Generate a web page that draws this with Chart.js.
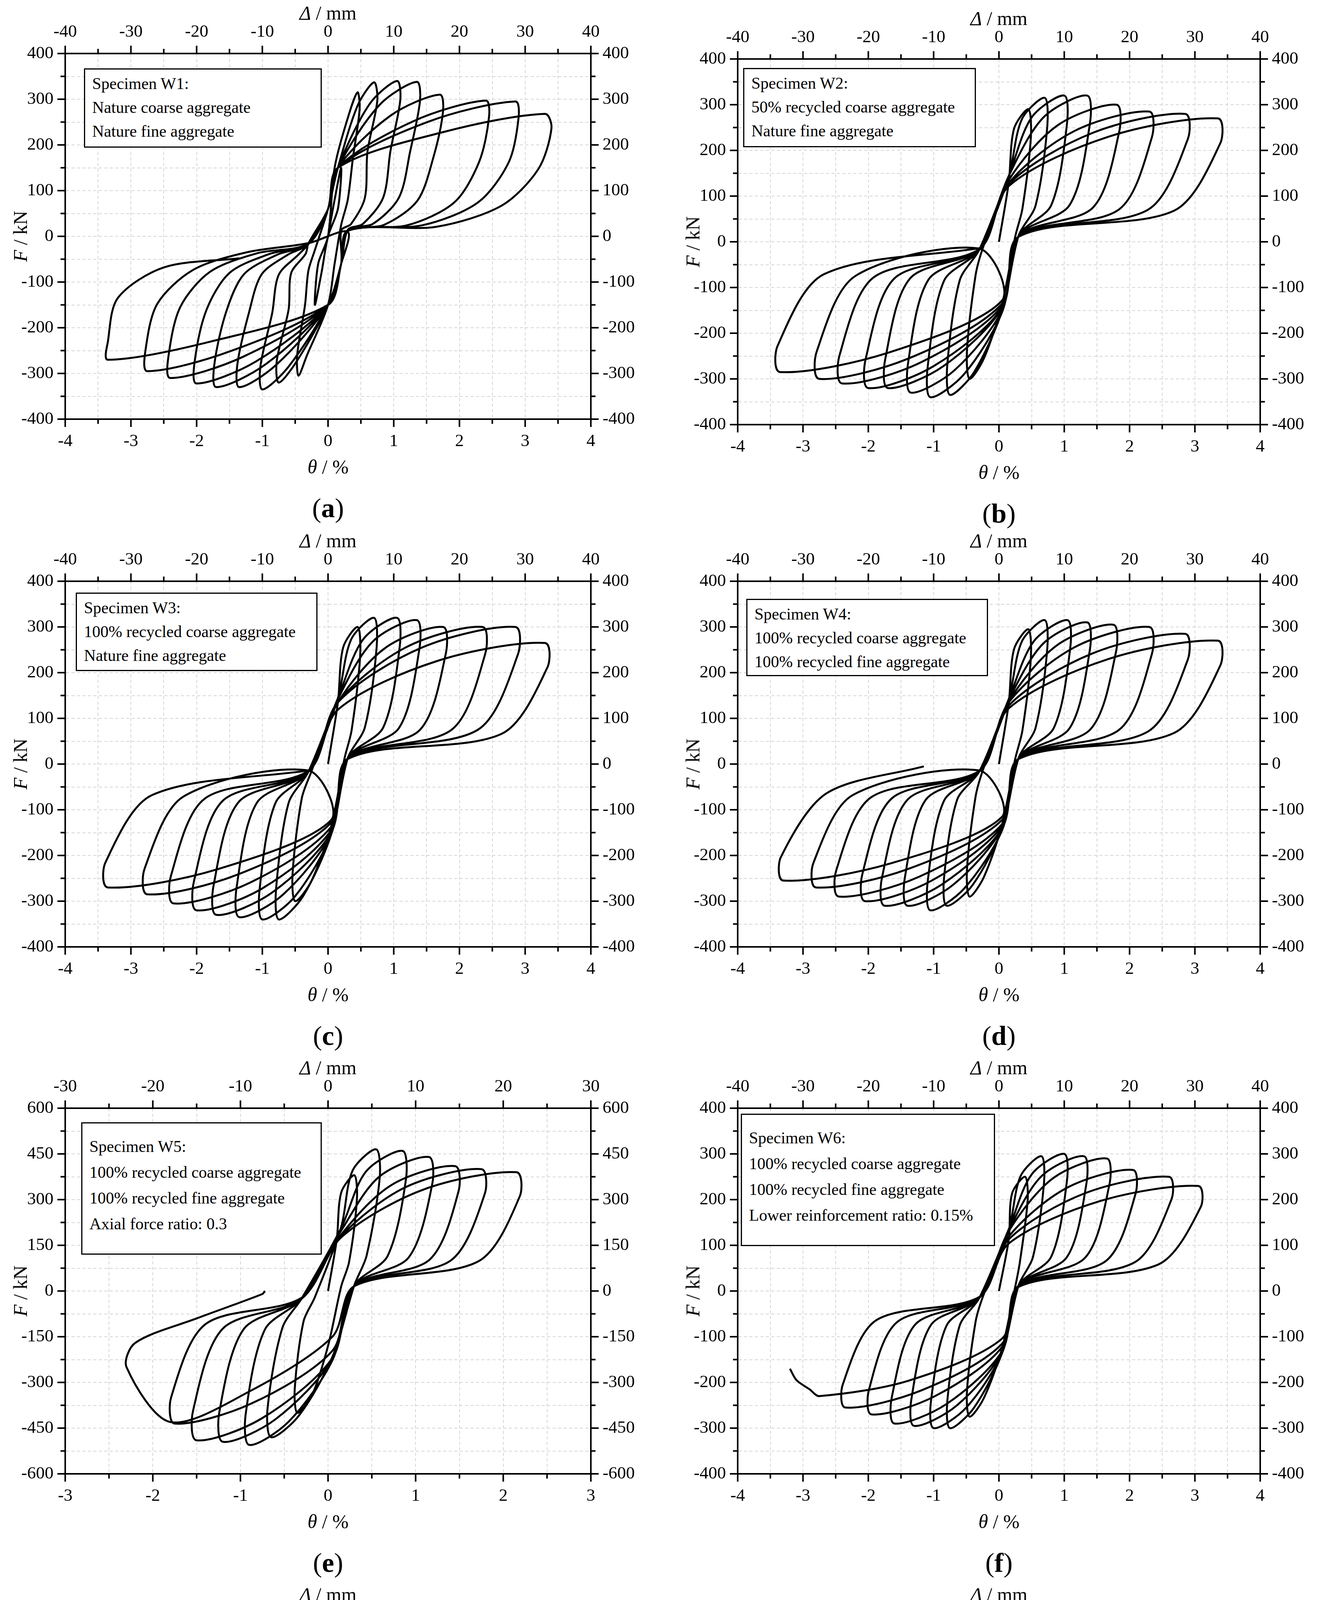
<!DOCTYPE html>
<html><head><meta charset="utf-8">
<script src="https://cdn.jsdelivr.net/npm/chart.js@4"></script>
<style>
body{margin:0;background:#fff;width:3375px;height:5408px;position:relative;overflow:hidden;font-family:"Liberation Serif",serif;}
canvas{position:absolute;}
.t{position:absolute;font-size:50px;color:#000;white-space:nowrap;transform:translate(-50%,-50%);}
.cap{position:absolute;font-size:70px;white-space:nowrap;transform:translate(-50%,-50%);}
.box{position:absolute;border:3px solid #000;background:#fff;font-size:42px;line-height:61px;padding:6px 0 0 18px;box-sizing:border-box;white-space:nowrap;z-index:5;}
</style></head><body>
<script>
const w1=[[0,0],[0.1,80],[0.2,150],[0.15,60],[0,0],[-0.1,-80],[-0.2,-150],[-0.15,-60],[0,0],
[0.1,150],[0.32,268],[0.45,315],[0.48,277],[0.38,173],[0.3,80],[0.2,25],
[0.1,-60],[0,-150],[-0.32,-260],[-0.45,-305],[-0.47,-260],[-0.35,-150],[-0.3,-76],[-0.2,-30],
[0,60],[0.15,150],[0.45,286],[0.7,337],[0.75,297],[0.6,185],[0.56,84],[0.35,27],[0.2,13],
[0.2,-60],[0,-150],[-0.47,-272],[-0.75,-320],[-0.78,-272],[-0.6,-160],[-0.56,-80],[-0.34,-38],[-0.3,-16],
[0,60],[0.15,150],[0.63,289],[1.05,340],[1.1,299],[0.95,187],[0.84,85],[0.53,27],[0.3,14],
[0.2,-60],[0,-150],[-0.6,-285],[-1.0,-335],[-1.03,-285],[-0.85,-168],[-0.75,-84],[-0.45,-40],[-0.3,-17],
[0,60],[0.15,150],[0.78,287],[1.35,338],[1.4,297],[1.25,186],[1.08,85],[0.68,27],[0.3,14],
[0.2,-60],[0,-150],[-0.78,-280],[-1.35,-330],[-1.38,-280],[-1.2,-165],[-1.01,-83],[-0.61,-40],[-0.3,-17],
[0,60],[0.15,150],[0.95,264],[1.7,310],[1.75,273],[1.6,171],[1.36,78],[0.85,25],[0.3,12],
[0.2,-60],[0,-150],[-0.95,-280],[-1.7,-330],[-1.73,-280],[-1.55,-165],[-1.28,-83],[-0.77,-40],[-0.3,-17],
[0,60],[0.15,150],[1.3,252],[2.4,297],[2.45,261],[2.3,163],[1.92,74],[1.2,24],[0.3,12],
[0.2,-60],[0,-150],[-1.1,-274],[-2.0,-322],[-2.03,-274],[-1.85,-161],[-1.5,-80],[-0.9,-39],[-0.3,-16],
[0,60],[0.15,150],[1.53,251],[2.85,295],[2.9,260],[2.75,162],[2.28,74],[1.43,24],[0.3,12],
[0.2,-60],[0,-150],[-1.3,-264],[-2.4,-310],[-2.43,-264],[-2.25,-155],[-1.8,-78],[-1.08,-37],[-0.3,-16],
[0,60],[0.15,150],[1.75,228],[3.3,268],[3.4,236],[3.2,147],[2.64,67],[1.65,21],[0.3,12],
[0.2,-60],[0,-150],[-1.48,-251],[-2.75,-295],[-2.78,-251],[-2.6,-148],[-2.06,-74],[-1.24,-35],[-0.3,-15],
[0.3,10],[0.2,-60],[0,-150],[-1.78,-230],[-3.35,-270],[-3.35,-230],[-3.2,-135],[-2.5,-68],[-1.35,-48]];
const w2=[[0,0],
[0.15,130],[0.23,247],[0.45,290],[0.49,232],[0.36,73],[0.25,12],[0.05,-135],[-0.23,-255],[-0.45,-300],[-0.49,-240],[-0.36,-75],[-0.25,-15],
[0.15,142],[0.35,268],[0.7,315],[0.74,252],[0.56,79],[0.3,13],[0.05,-150],[-0.38,-285],[-0.75,-335],[-0.79,-268],[-0.6,-84],[-0.3,-17],
[0.15,144],[0.5,272],[1.0,320],[1.04,256],[0.8,80],[0.3,13],[0.05,-153],[-0.53,-289],[-1.05,-340],[-1.09,-272],[-0.84,-85],[-0.3,-17],
[0.15,144],[0.68,272],[1.35,320],[1.39,256],[1.08,80],[0.3,13],[0.05,-149],[-0.68,-281],[-1.35,-330],[-1.39,-264],[-1.08,-83],[-0.3,-17],
[0.15,135],[0.9,255],[1.8,300],[1.84,240],[1.44,75],[0.3,12],[0.05,-144],[-0.85,-272],[-1.7,-320],[-1.74,-256],[-1.36,-80],[-0.3,-16],
[0.15,128],[1.15,242],[2.3,285],[2.34,228],[1.84,71],[0.3,11],[0.05,-144],[-1.0,-272],[-2.0,-320],[-2.04,-256],[-1.6,-80],[-0.3,-16],
[0.15,126],[1.43,238],[2.85,280],[2.89,224],[2.28,70],[0.3,11],[0.05,-140],[-1.2,-264],[-2.4,-310],[-2.44,-248],[-1.92,-78],[-0.3,-16],
[0.15,122],[1.68,230],[3.35,270],[3.39,216],[2.68,68],[0.3,11],[0.05,-135],[-1.38,-255],[-2.75,-300],[-2.79,-240],[-2.2,-75],[-0.3,-15],
[0.05,-128],[-1.68,-242],[-3.35,-285],[-3.39,-228],[-2.68,-71],[-0.3,-14]];
const w3=[[0,0],
[0.15,135],[0.23,255],[0.45,300],[0.49,240],[0.36,75],[0.25,12],[0.05,-135],[-0.25,-255],[-0.5,-300],[-0.54,-240],[-0.4,-75],[-0.25,-15],
[0.15,144],[0.35,272],[0.7,320],[0.74,256],[0.56,80],[0.3,13],[0.05,-153],[-0.38,-289],[-0.75,-340],[-0.79,-272],[-0.6,-85],[-0.3,-17],
[0.15,144],[0.53,272],[1.05,320],[1.09,256],[0.84,80],[0.3,13],[0.05,-153],[-0.5,-289],[-1.0,-340],[-1.04,-272],[-0.8,-85],[-0.3,-17],
[0.15,142],[0.68,268],[1.35,315],[1.39,252],[1.08,79],[0.3,13],[0.05,-151],[-0.68,-285],[-1.35,-335],[-1.39,-268],[-1.08,-84],[-0.3,-17],
[0.15,135],[0.88,255],[1.75,300],[1.79,240],[1.4,75],[0.3,12],[0.05,-149],[-0.85,-281],[-1.7,-330],[-1.74,-264],[-1.36,-83],[-0.3,-17],
[0.15,135],[1.18,255],[2.35,300],[2.39,240],[1.88,75],[0.3,12],[0.05,-144],[-1.0,-272],[-2.0,-320],[-2.04,-256],[-1.6,-80],[-0.3,-16],
[0.15,135],[1.43,255],[2.85,300],[2.89,240],[2.28,75],[0.3,12],[0.05,-137],[-1.18,-259],[-2.35,-305],[-2.39,-244],[-1.88,-76],[-0.3,-15],
[0.15,119],[1.65,225],[3.3,265],[3.34,212],[2.64,66],[0.3,11],[0.05,-128],[-1.38,-242],[-2.75,-285],[-2.79,-228],[-2.2,-71],[-0.3,-14],
[0.05,-122],[-1.68,-230],[-3.35,-270],[-3.39,-216],[-2.68,-68],[-0.3,-14]];
const w4=[[0,0],
[0.15,133],[0.23,251],[0.45,295],[0.49,236],[0.36,74],[0.25,12],[0.05,-131],[-0.23,-247],[-0.45,-290],[-0.49,-232],[-0.36,-73],[-0.25,-15],
[0.15,142],[0.35,268],[0.7,315],[0.74,252],[0.56,79],[0.3,13],[0.05,-140],[-0.4,-264],[-0.8,-310],[-0.84,-248],[-0.64,-78],[-0.3,-16],
[0.15,142],[0.53,268],[1.05,315],[1.09,252],[0.84,79],[0.3,13],[0.05,-144],[-0.53,-272],[-1.05,-320],[-1.09,-256],[-0.84,-80],[-0.3,-16],
[0.15,140],[0.68,264],[1.35,310],[1.39,248],[1.08,78],[0.3,12],[0.05,-140],[-0.7,-264],[-1.4,-310],[-1.44,-248],[-1.12,-78],[-0.3,-16],
[0.15,137],[0.88,259],[1.75,305],[1.79,244],[1.4,76],[0.3,12],[0.05,-140],[-0.88,-264],[-1.75,-310],[-1.79,-248],[-1.4,-78],[-0.3,-16],
[0.15,135],[1.15,255],[2.3,300],[2.34,240],[1.84,75],[0.3,12],[0.05,-135],[-1.03,-255],[-2.05,-300],[-2.09,-240],[-1.64,-75],[-0.3,-15],
[0.15,128],[1.43,242],[2.85,285],[2.89,228],[2.28,71],[0.3,11],[0.05,-131],[-1.23,-247],[-2.45,-290],[-2.49,-232],[-1.96,-73],[-0.3,-15],
[0.15,122],[1.68,230],[3.35,270],[3.39,216],[2.68,68],[0.3,11],[0.05,-122],[-1.4,-230],[-2.8,-270],[-2.84,-216],[-2.24,-68],[-0.3,-14],
[0.05,-115],[-1.65,-217],[-3.3,-255],[-3.34,-204],[-2.64,-64],[-1.15,-5]];
const w5=[[0,0],
[0.1,170],[0.15,323],[0.3,380],[0.33,304],[0.24,95],[0.15,15],[0,-180],[-0.18,-340],[-0.35,-400],[-0.38,-320],[-0.28,-100],[-0.15,-20],
[0.15,210],[0.28,395],[0.55,465],[0.59,372],[0.44,116],[0.3,19],[0.05,-216],[-0.33,-408],[-0.65,-480],[-0.69,-384],[-0.52,-120],[-0.3,-24],
[0.15,207],[0.43,391],[0.85,460],[0.89,368],[0.68,115],[0.3,18],[0.05,-227],[-0.45,-429],[-0.9,-505],[-0.94,-404],[-0.72,-126],[-0.3,-25],
[0.15,198],[0.58,374],[1.15,440],[1.19,352],[0.92,110],[0.3,18],[0.05,-223],[-0.6,-421],[-1.2,-495],[-1.24,-396],[-0.96,-124],[-0.3,-25],
[0.15,185],[0.73,349],[1.45,410],[1.49,328],[1.16,103],[0.3,16],[0.05,-220],[-0.75,-417],[-1.5,-490],[-1.54,-392],[-1.2,-123],[-0.3,-25],
[0.15,180],[0.88,340],[1.75,400],[1.79,320],[1.4,100],[0.3,16],[0.05,-196],[-0.88,-370],[-1.75,-435],[-1.79,-348],[-1.4,-109],[-0.3,-22],
[0.15,176],[1.08,332],[2.15,390],[2.19,312],[1.72,98],[0.3,16],
[0.05,-150],[-0.9,-330],[-1.8,-430],[-2.3,-250],[-2.2,-170],[-1.5,-90],[-0.75,-10],[-0.72,0]];
const w6=[[0,0],
[0.15,113],[0.2,213],[0.4,250],[0.44,200],[0.32,63],[0.25,10],[0.05,-124],[-0.23,-234],[-0.45,-275],[-0.49,-220],[-0.36,-69],[-0.25,-14],
[0.15,133],[0.33,251],[0.65,295],[0.69,236],[0.52,74],[0.3,12],[0.05,-135],[-0.38,-255],[-0.75,-300],[-0.79,-240],[-0.6,-75],[-0.3,-15],
[0.15,135],[0.5,255],[1.0,300],[1.04,240],[0.8,75],[0.3,12],[0.05,-135],[-0.5,-255],[-1.0,-300],[-1.04,-240],[-0.8,-75],[-0.3,-15],
[0.15,133],[0.65,251],[1.3,295],[1.34,236],[1.04,74],[0.3,12],[0.05,-133],[-0.65,-251],[-1.3,-295],[-1.34,-236],[-1.04,-74],[-0.3,-15],
[0.15,131],[0.83,247],[1.65,290],[1.69,232],[1.32,73],[0.3,12],[0.05,-131],[-0.8,-247],[-1.6,-290],[-1.64,-232],[-1.28,-73],[-0.3,-15],
[0.15,119],[1.03,225],[2.05,265],[2.09,212],[1.64,66],[0.3,11],[0.05,-122],[-0.98,-230],[-1.95,-270],[-1.99,-216],[-1.56,-68],[-0.3,-14],
[0.15,113],[1.3,213],[2.6,250],[2.64,200],[2.08,63],[0.3,10],[0.05,-115],[-1.18,-217],[-2.35,-255],[-2.39,-204],[-1.88,-64],[-0.3,-13],
[0.15,104],[1.53,196],[3.05,230],[3.09,184],[2.44,58],[0.3,9],[0.05,-104],[-1.38,-196],[-2.75,-230],[-2.9,-215],[-3.1,-195],[-3.2,-170]];
const w7=[[0,0],
[0.15,140],[0.23,264],[0.45,310],[0.49,248],[0.36,78],[0.25,12],[0.05,-144],[-0.25,-272],[-0.5,-320],[-0.54,-256],[-0.4,-80],[-0.25,-16],
[0.15,155],[0.35,293],[0.7,345],[0.74,276],[0.56,86],[0.3,14],[0.05,-153],[-0.4,-289],[-0.8,-340],[-0.84,-272],[-0.64,-85],[-0.3,-17],
[0.15,160],[0.5,302],[1.0,355],[1.04,284],[0.8,89],[0.3,14],[0.05,-155],[-0.55,-293],[-1.1,-345],[-1.14,-276],[-0.88,-86],[-0.3,-17],
[0.15,153],[0.65,289],[1.3,340],[1.34,272],[1.04,85],[0.3,14],[0.05,-151],[-0.7,-285],[-1.4,-335],[-1.44,-268],[-1.12,-84],[-0.3,-17],
[0.15,144],[0.83,272],[1.65,320],[1.69,256],[1.32,80],[0.3,13],[0.05,-149],[-0.88,-281],[-1.75,-330],[-1.79,-264],[-1.4,-83],[-0.3,-17],
[0.15,135],[1.15,255],[2.3,300],[2.34,240],[1.84,75],[0.3,12],[0.05,-144],[-1.03,-272],[-2.05,-320],[-2.09,-256],[-1.64,-80],[-0.3,-16],
[0.15,135],[1.65,255],[3.3,300],[3.34,240],[2.64,75],[0.3,12],[0.05,-140],[-1.23,-264],[-2.45,-310],[-2.49,-248],[-1.96,-78],[-0.3,-16],
[0.15,126],[1.7,238],[3.4,280],[3.44,224],[2.72,70],[0.3,11],[0.05,-135],[-1.53,-255],[-3.05,-300],[-3.09,-240],[-2.44,-75],[-0.3,-15],
[0.5,10],[1.5,15],[2.05,0],[2.1,5],[2.5,45],[2.8,100]];
const w8=[[0,0],
[0.15,144],[0.23,272],[0.45,320],[0.49,256],[0.36,80],[0.25,13],[0.05,-144],[-0.25,-272],[-0.5,-320],[-0.54,-256],[-0.4,-80],[-0.25,-16],
[0.15,173],[0.35,327],[0.7,385],[0.74,308],[0.56,96],[0.3,15],[0.05,-155],[-0.4,-293],[-0.8,-345],[-0.84,-276],[-0.64,-86],[-0.3,-17],
[0.15,176],[0.53,332],[1.05,390],[1.09,312],[0.84,98],[0.3,16],[0.05,-158],[-0.5,-298],[-1.0,-350],[-1.04,-280],[-0.8,-88],[-0.3,-18],
[0.15,176],[0.68,332],[1.35,390],[1.39,312],[1.08,98],[0.3,16],[0.05,-155],[-0.68,-293],[-1.35,-345],[-1.39,-276],[-1.08,-86],[-0.3,-17],
[0.15,162],[0.83,306],[1.65,360],[1.69,288],[1.32,90],[0.3,14],[0.05,-153],[-0.85,-289],[-1.7,-340],[-1.74,-272],[-1.36,-85],[-0.3,-17],
[0.15,153],[1.15,289],[2.3,340],[2.34,272],[1.84,85],[0.3,14],[0.05,-149],[-1.05,-281],[-2.1,-330],[-2.14,-264],[-1.68,-83],[-0.3,-17],
[0.15,140],[1.45,264],[2.9,310],[2.94,248],[2.32,78],[0.3,12],[0.05,-144],[-1.23,-272],[-2.45,-320],[-2.49,-256],[-1.96,-80],[-0.3,-16],
[0.15,140],[1.63,264],[3.25,310],[3.29,248],[2.6,78],[0.3,12],[0.05,-140],[-1.45,-264],[-2.9,-310],[-2.94,-248],[-2.32,-78],[-0.3,-16],
[0.05,-133],[-1.68,-251],[-3.35,-295],[-3.39,-236],[-3.3,-180],[-3.1,-140]];

const series=[w1,w2,w3,w4,w5,w6,w7,w8];
const captions=['a','b','c','d','e','f','g','h'];
const legends=[
["Specimen W1:","Nature coarse aggregate","Nature fine aggregate"],
["Specimen W2:","50% recycled coarse aggregate","Nature fine aggregate"],
["Specimen W3:","100% recycled coarse aggregate","Nature fine aggregate"],
["Specimen W4:","100% recycled coarse aggregate","100% recycled fine aggregate"],
["Specimen W5:","100% recycled coarse aggregate","100% recycled fine aggregate","Axial force ratio: 0.3"],
["Specimen W6:","100% recycled coarse aggregate","100% recycled fine aggregate","Lower reinforcement ratio: 0.15%"],
["Specimen W7:","100% recycled coarse aggregate","100% recycled fine aggregate","Higher reinforcement ratio: 0.15%"],
["Specimen W8:","100% recycled coarse aggregate","100% recycled fine aggregate","Encased X-shaped brace"]];
const thetaMax=[4,4,4,4,3,4,4,4];
const deltaMax=[40,40,40,40,30,40,40,40];
const forceMax=[400,400,400,400,600,400,400,400];
const forceStep=[50,50,50,50,75,50,50,50];
const forceLabelStep=[100,100,100,100,150,100,100,100];

// layout (plot areas in px)
const colL=[167,1889], colW=[1346,1338];
const panelTop=[137,151,1488,1488,2837,2837,4186,4186], panelH=936;
const boxPos=[[215,175,609,203],[1903,174,596,203],[194,1517,619,201],[1911,1533,619,198],
[208,2873,616,339],[1897,2851,651,339],[170,4195,661,336],[1907,4207,619,339]];

const M=160, MT=130;
function fix(w,h){return function(s){ if(w) s.width=w; if(h) s.height=h; };}
const FONT={family:'"Liberation Serif", serif',size:45};

const tickPlugin={id:'tk',afterDraw(chart){
  const ctx=chart.ctx;ctx.save();ctx.strokeStyle='#000';ctx.lineWidth=4;
  for(const id of ['x','x2','y','y2']){
    const s=chart.scales[id];
    s.ticks.forEach((t,k)=>{
      const major=t.label!=='';const len=major?20:12;
      const p=s.getPixelForTick(k);ctx.beginPath();
      if(id==='x'){ctx.moveTo(p,s.top);ctx.lineTo(p,s.top+len);}
      else if(id==='x2'){ctx.moveTo(p,s.bottom);ctx.lineTo(p,s.bottom-len);}
      else if(id==='y'){ctx.moveTo(s.right,p);ctx.lineTo(s.right-len,p);}
      else {ctx.moveTo(s.left,p);ctx.lineTo(s.left+len,p);}
      ctx.stroke();
    });
  }
  ctx.restore();}};

series.forEach((data,i)=>{
  const c=i%2;
  const L=colL[c], T=panelTop[i], W=colW[c], H=panelH;
  const cv=document.createElement('canvas');
  cv.width=W+2*M; cv.height=H+2*MT;
  cv.style.left=(L-M)+'px'; cv.style.top=(T-MT)+'px';
  document.body.appendChild(cv);
  const tm=thetaMax[i], dm=deltaMax[i], fm=forceMax[i], fs=forceStep[i], fl=forceLabelStep[i];
  const gridCommon={color:'#d6d6d6',lineWidth:2,drawTicks:false};
  const border={color:'#000',width:4,dash:[8,6]};
  const tk={font:FONT,color:'#000',autoSkip:false,maxRotation:0};
  new Chart(cv,{type:'scatter',
    data:{datasets:[{data:data.map(p=>({x:p[0],y:p[1]})),showLine:true,borderColor:'#000',borderWidth:5,pointRadius:0,tension:0.3,xAxisID:'x',yAxisID:'y'}]},
    plugins:[tickPlugin],
    options:{responsive:false,animation:false,devicePixelRatio:1,layout:{padding:0},
      plugins:{legend:{display:false},tooltip:{enabled:false}},
      scales:{
        x:{type:'linear',position:'bottom',min:-tm,max:tm,afterFit:fix(0,MT),
          ticks:{...tk,stepSize:0.5,padding:30,callback:v=>Number.isInteger(v)?String(v):''},grid:gridCommon,border},
        x2:{type:'linear',position:'top',min:-dm,max:dm,afterFit:fix(0,MT),
          ticks:{...tk,stepSize:5,padding:28,callback:v=>v%10===0?String(v):''},grid:{...gridCommon,drawOnChartArea:false},border:{color:'#000',width:4}},
        y:{type:'linear',position:'left',min:-fm,max:fm,afterFit:fix(M,0),
          ticks:{...tk,stepSize:fs,padding:30,callback:v=>v%fl===0?String(v):''},grid:gridCommon,border},
        y2:{type:'linear',position:'right',min:-fm,max:fm,afterFit:fix(M,0),
          ticks:{...tk,stepSize:fs,padding:30,callback:v=>v%fl===0?String(v):''},grid:{...gridCommon,drawOnChartArea:false},border:{color:'#000',width:4}}
      }}});
  const add=(cls,html,x,y,rot)=>{const d=document.createElement('div');d.className=cls;d.innerHTML=html;
    d.style.left=x+'px';d.style.top=y+'px';if(rot)d.style.transform='translate(-50%,-50%) rotate(-90deg)';document.body.appendChild(d);};
  add('t','<i>Δ</i> / mm',L+W/2,T-104);
  add('t','<i>θ</i> / %',L+W/2,T+H+122);
  add('t','<i>F</i> / kN',L-115,T+H/2,true);
  add('cap','(<b>'+captions[i]+'</b>)',L+W/2,T+H+228);
  const b=boxPos[i];const bd=document.createElement('div');bd.className='box';
  bd.style.left=b[0]+'px';bd.style.top=b[1]+'px';bd.style.width=b[2]+'px';bd.style.height=b[3]+'px';
  bd.innerHTML=legends[i].join('<br>');
  if(legends[i].length===4){bd.style.paddingTop='26px';bd.style.lineHeight='66px';}
  document.body.appendChild(bd);
});
</script>
</body></html>
